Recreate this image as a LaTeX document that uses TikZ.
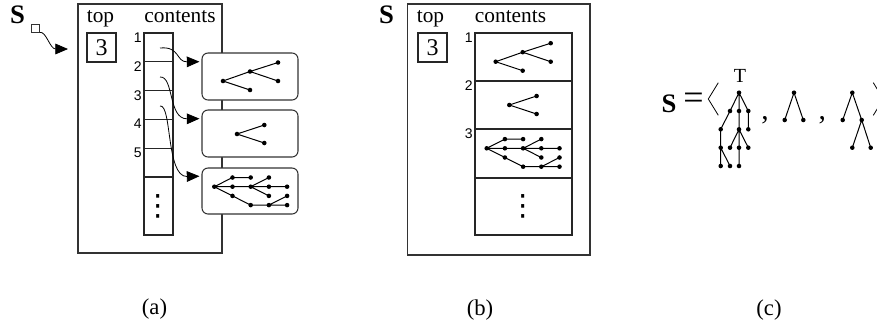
\documentclass[tikz,border=0pt]{standalone}
\usepackage{fontspec}
\setmainfont{Liberation Serif}
\newfontfamily\numfont{Liberation Sans}
\newfontfamily\symfont{DejaVu Sans}
\usetikzlibrary{arrows.meta}
\tikzset{
  box/.style={draw=black!80, line width=0.8pt},
  cellbox/.style={draw=black!85, line width=0.8pt, inner sep=0pt},
  treebox/.style={draw=black!80, line width=0.8pt, fill=white, rounded corners=4.5pt, inner sep=0pt, minimum width=72pt},
  edge/.style={line width=0.75pt},
  ptr/.style={line width=0.6pt, -{Triangle[length=9.5pt,width=8pt]}},
  lbl/.style={font=\fontsize{16}{18}\selectfont, inner sep=0pt, anchor=base},
  bigs/.style={font=\fontsize{20}{22}\selectfont\bfseries, inner sep=0pt, anchor=base},
  digit/.style={font=\fontsize{18}{20}\selectfont, draw=black!85, line width=0.8pt, inner sep=0pt, minimum size=21.75pt},
  num/.style={font=\numfont\fontsize{10.5}{12}\selectfont, inner sep=0pt, anchor=north east},
  captext/.style={font=\fontsize{17}{20}\selectfont, inner sep=0pt},
  vdot/.style={font=\symfont\fontsize{22}{24}\selectfont, inner sep=0pt},
}
\newcommand\dotat[1]{\fill (#1) circle[radius=1.7pt];}
\newcommand\treeone{%
  \coordinate (r) at (0,0); \coordinate (m) at (27,-9.5); \coordinate (t) at (55,-18.5);
  \coordinate (q) at (55,0); \coordinate (b) at (27,9);
  \draw[edge] (r)--(m)--(t) (m)--(q) (r)--(b);
  \foreach \p in {r,m,t,q,b} {\dotat{\p}}}
\newcommand\treetwo{%
  \coordinate (r) at (0,0); \coordinate (u) at (27.3,-9); \coordinate (d) at (27.3,9);
  \draw[edge] (u)--(r)--(d);
  \foreach \p in {r,u,d} {\dotat{\p}}}
\newcommand\treethree{%
  \coordinate (r) at (0,0);
  \coordinate (a) at (18.2,-9.2); \coordinate (b) at (36.4,-9.2); \coordinate (c) at (54.6,-9.2);
  \coordinate (d) at (18.2,0); \coordinate (e) at (36.4,0); \coordinate (f) at (54.6,0); \coordinate (g) at (72.8,0);
  \coordinate (h) at (18.2,9.2); \coordinate (i) at (54.6,9.2); \coordinate (j) at (72.8,9.2);
  \coordinate (k) at (36.4,18.4); \coordinate (l) at (54.6,18.4); \coordinate (m) at (72.8,18.4);
  \draw[edge] (r)--(a)--(b) (r)--(d)--(e)--(f)--(g) (e)--(c) (e)--(i)
     (r)--(h)--(k)--(l)--(m) (l)--(j);
  \foreach \p in {r,a,b,c,d,e,f,g,h,i,j,k,l,m} {\dotat{\p}}}
\begin{document}
\begin{tikzpicture}[x=0.75pt, y=-0.75pt]
\useasboundingbox (0,0) rectangle (877,326);

% ---------------- (a) ----------------
\node[box, inner sep=0pt, minimum width=108pt, minimum height=186.75pt] (A) at (150,128.5) {};
\node[bigs] (AS) at (17.5,23.5) {S};
\node[draw=black!80, line width=0.6pt, inner sep=0pt, minimum size=6pt] (sq) at (35.5,28) {};
\coordinate (ae) at (68,49);
\draw[ptr] (sq.south east) .. controls (46,31) and (50,49) .. (ae);
\node[lbl] (Atop) at (100.5,22) {top};
\node[lbl] (Acont) at (180,22) {contents};
\node[digit] (A3) at (101.5,47.5) {3};

\foreach \i/\y in {1/47.4,2/76.2,3/105,4/133.8,5/162.6} {
  \node[cellbox, minimum width=21.75pt, minimum height=21.6pt] (AC\i) at (158.5,\y) {};
  \node[num] (AN\i) at ([xshift=-1.2pt]AC\i.north west) {\i};
}
\node[cellbox, minimum width=21.75pt, minimum height=43.5pt] (AC6) at (158.5,206) {};
\node[vdot] (Adots) at (AC6.center) {⋮};

\node[treebox, minimum height=35.25pt] (TB1) at (250,76.5) {};
\node[treebox, minimum height=35.25pt] (TB2) at (250,133.5) {};
\node[treebox, minimum height=34.5pt] (TB3) at (250,191) {};
\begin{scope}[shift={(223,81)}, name prefix=aT1-] \treeone \end{scope}
\begin{scope}[shift={(237,134)}, name prefix=aT2-] \treetwo \end{scope}
\begin{scope}[shift={(214.3,186.7)}, name prefix=aT3-] \treethree \end{scope}

\coordinate (s1) at (160,48);
\coordinate (s2) at (160,77);
\coordinate (s3) at (160,106);
\draw[ptr, shorten >=1.5pt] (s1) .. controls (180,46) and (176,62) .. (TB1.163);
\draw[ptr, shorten >=1.5pt] (s2) .. controls (174,76) and (168,119) .. (TB2.163);
\draw[ptr, shorten >=1.5pt] (s3) .. controls (172,104) and (166,177) .. (TB3.163);

% ---------------- (b) ----------------
\node[box, inner sep=0pt, minimum width=136.7pt, minimum height=188.25pt] (B) at (498.85,129.5) {};
\node[bigs] (BS) at (386.5,23.5) {S};
\node[lbl] (Btop) at (430.5,22) {top};
\node[lbl] (Bcont) at (510.5,22) {contents};
\node[digit] (B3) at (432.5,47.5) {3};
\node[cellbox, minimum width=72.75pt, minimum height=36pt] (BC1) at (523.5,57) {};
\node[cellbox, minimum width=72.75pt, minimum height=36pt] (BC2) at (523.5,105) {};
\node[cellbox, minimum width=72.75pt, minimum height=36.75pt] (BC3) at (523.5,153.5) {};
\node[cellbox, minimum width=72.75pt, minimum height=42.75pt] (BC4) at (523.5,206.5) {};
\foreach \i in {1,2,3} { \node[num] (BN\i) at ([xshift=-1.2pt]BC\i.north west) {\i}; }
\node[vdot] (Bdots) at (BC4.center) {⋮};
\begin{scope}[shift={(495.7,61.7)}, name prefix=bT1-] \treeone \end{scope}
\begin{scope}[shift={(509.3,105)}, name prefix=bT2-] \treetwo \end{scope}
\begin{scope}[shift={(486.7,148.3)}, name prefix=bT3-] \treethree \end{scope}

% ---------------- (c) ----------------
\node[bigs] (CS) at (669,112) {S};
\node[font=\fontsize{27}{30}\selectfont, inner sep=0pt] (Ceq) at (693.5,101.7) {=};
\draw[line width=0.6pt] (718.3,82.7) -- (708.3,99) -- (718.3,115.3);
\draw[line width=0.6pt] (873.3,82.7) -- (883.3,99) -- (873.3,115.3);
\node[font=\fontsize{15}{16}\selectfont, inner sep=0pt, anchor=base] (CT) at (740,82) {T};
\node[font=\fontsize{22}{22}\selectfont, inner sep=0pt, anchor=base] (Ccom1) at (765,119.5) {,};
\node[font=\fontsize{22}{22}\selectfont, inner sep=0pt, anchor=base] (Ccom2) at (822.3,119.5) {,};
\begin{scope}[name prefix=T-]
  \coordinate (r) at (739,92.7);
  \coordinate (a1) at (730,111); \coordinate (a2) at (739,111); \coordinate (a3) at (748.3,111);
  \coordinate (b1) at (720.7,129.3); \coordinate (b2) at (739,129.3); \coordinate (b3) at (748.3,129.3);
  \coordinate (c1) at (720.7,147.7); \coordinate (c2) at (730,147.7); \coordinate (c3) at (739,147.7); \coordinate (c4) at (748.3,147.7);
  \coordinate (d1) at (720.7,166); \coordinate (d2) at (730,166); \coordinate (d3) at (739,166);
  \draw[edge] (r)--(a1)--(b1)--(c1)--(d1) (c1)--(d2) (r)--(a2)--(b2)--(c3)--(d3)
     (b2)--(c2) (b2)--(c4) (r)--(a3)--(b3);
  \foreach \p in {r,a1,a2,a3,b1,b2,b3,c1,c2,c3,c4,d1,d2,d3} {\dotat{\p}}
\end{scope}
\begin{scope}[name prefix=U-]
  \coordinate (r) at (794,92.7); \coordinate (l) at (784.7,120); \coordinate (q) at (803.3,120);
  \draw[edge] (l)--(r)--(q);
  \foreach \p in {r,l,q} {\dotat{\p}}
\end{scope}
\begin{scope}[name prefix=V-]
  \coordinate (r) at (852.3,92.7); \coordinate (l) at (842.7,120); \coordinate (q) at (861.7,120);
  \coordinate (ql) at (852.3,147.7); \coordinate (qr) at (870.7,147.7);
  \draw[edge] (l)--(r)--(q) (ql)--(q)--(qr);
  \foreach \p in {r,l,q,ql,qr} {\dotat{\p}}
\end{scope}

% captions
\node[captext] (capa) at (154.5,309) {(a)};
\node[captext] (capb) at (480,310) {(b)};
\node[captext] (capc) at (769,310) {(c)};
\end{tikzpicture}
\end{document}
